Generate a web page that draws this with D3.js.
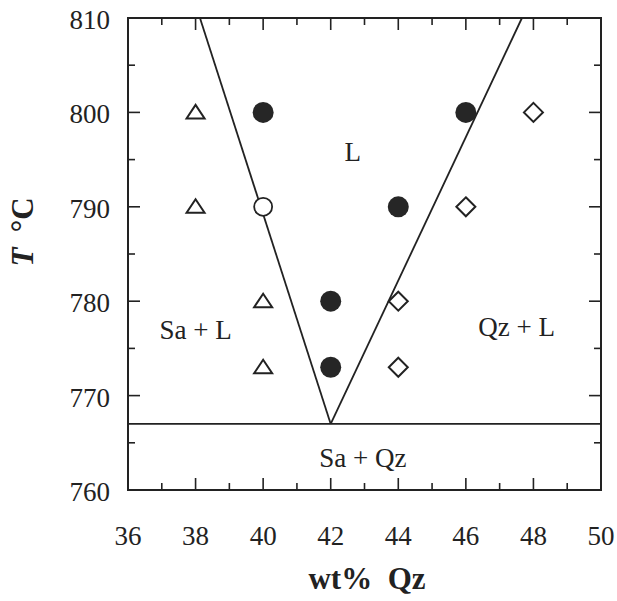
<!DOCTYPE html>
<html lang="en">
<head>
<meta charset="UTF-8">
<title>Sa-Qz phase diagram</title>
<script src="https://d3js.org/d3.v7.min.js"></script>
<style>
 body {margin: 0; padding: 0; background: #fff;}
 svg {font-family: "Liberation Serif", "DejaVu Serif", serif;}
 .tick-label {font-size: 27px; fill: #222;}
 .region {font-size: 27px; fill: #222;}
 .title {font-size: 31px; font-weight: bold; fill: #222;}
</style>
</head>
<body>
<svg id="chart" width="617" height="601"></svg>
<script>
// x ticks (wt% Qz) and y ticks (T °C)
const xTicks = [36, 38, 40, 42, 44, 46, 48, 50];
const yTicks = [760, 770, 780, 790, 800, 810];

// experiments, [wt% Qz, T]
const saL = [[38, 800], [38, 790], [40, 780], [40, 773]];        // triangles
const liquid = [[40, 800], [46, 800], [44, 790], [42, 780], [42, 773]]; // filled circles
const openCircle = [[40, 790]];
const qzL = [[48, 800], [46, 790], [44, 780], [44, 773]];        // diamonds

// phase boundaries
const leftBoundary = [[38.13, 810], [42, 767]];
const rightBoundary = [[42, 767], [47.66, 810]];
const solidus = [[36, 767], [50, 767]];

const regionLabels = [
  {text: 'L', x: 42.65, t: 795.8},
  {text: 'Sa + L', x: 38.0, t: 777},
  {text: 'Qz + L', x: 47.5, t: 777.3},
  {text: 'Sa + Qz', x: 42.95, t: 763.4}
];

const svg = d3.select('#chart');
const m = {left: 128, right: 16, top: 18, bottom: 111};
const W = 617, H = 601;
const x = d3.scaleLinear().domain([36, 50]).range([m.left, W - m.right]);
const y = d3.scaleLinear().domain([760, 810]).range([H - m.bottom, m.top]);

const ink = '#222';

// frame
svg.append('rect')
  .attr('x', x(36)).attr('y', y(810))
  .attr('width', x(50) - x(36)).attr('height', y(760) - y(810))
  .attr('fill', 'none').attr('stroke', ink).attr('stroke-width', 2);

// inward ticks
const xMinor = d3.range(37, 50, 2);
const yMinor = d3.range(765, 810, 10);
const tg = svg.append('g').attr('stroke', ink).attr('stroke-width', 1.6);
function xTick(v, len) {
  tg.append('line').attr('x1', x(v)).attr('x2', x(v)).attr('y1', y(760)).attr('y2', y(760) - len);
  tg.append('line').attr('x1', x(v)).attr('x2', x(v)).attr('y1', y(810)).attr('y2', y(810) + len);
}
function yTick(v, len) {
  tg.append('line').attr('x1', x(36)).attr('x2', x(36) + len).attr('y1', y(v)).attr('y2', y(v));
  tg.append('line').attr('x1', x(50)).attr('x2', x(50) - len).attr('y1', y(v)).attr('y2', y(v));
}
xTicks.slice(1, -1).forEach(v => xTick(v, 12));
xMinor.forEach(v => xTick(v, 7));
yTicks.slice(1, -1).forEach(v => yTick(v, 12));
yMinor.forEach(v => yTick(v, 7));

// tick labels
svg.append('g').selectAll('text').data(xTicks).join('text')
  .attr('class', 'tick-label')
  .attr('x', d => x(d)).attr('y', y(760) + 55)
  .attr('text-anchor', 'middle')
  .text(d => d);
svg.append('g').selectAll('text').data(yTicks).join('text')
  .attr('class', 'tick-label')
  .attr('x', x(36) - 18).attr('y', d => y(d) + 11)
  .attr('text-anchor', 'end')
  .text(d => d);

// boundaries
const line = d3.line().x(d => x(d[0])).y(d => y(d[1]));
[leftBoundary, rightBoundary, solidus].forEach(seg => {
  svg.append('path').attr('d', line(seg))
    .attr('fill', 'none').attr('stroke', ink).attr('stroke-width', 1.8);
});

// markers
const pts = svg.append('g');
pts.selectAll('.tri').data(saL).join('path')
  .attr('d', 'M0,-7.5 L9,6 L-9,6 Z')
  .attr('transform', d => `translate(${x(d[0])},${y(d[1])})`)
  .attr('fill', '#fff').attr('stroke', ink).attr('stroke-width', 2);
pts.selectAll('.dia').data(qzL).join('path')
  .attr('d', 'M0,-9.5 L9.5,0 L0,9.5 L-9.5,0 Z')
  .attr('transform', d => `translate(${x(d[0])},${y(d[1])})`)
  .attr('fill', '#fff').attr('stroke', ink).attr('stroke-width', 2);
pts.selectAll('.open').data(openCircle).join('circle')
  .attr('cx', d => x(d[0])).attr('cy', d => y(d[1])).attr('r', 9)
  .attr('fill', '#fff').attr('stroke', ink).attr('stroke-width', 1.8);
pts.selectAll('.fill').data(liquid).join('circle')
  .attr('cx', d => x(d[0])).attr('cy', d => y(d[1])).attr('r', 10.5)
  .attr('fill', '#262626');

// region labels
svg.append('g').selectAll('text').data(regionLabels).join('text')
  .attr('class', 'region')
  .attr('x', d => x(d.x)).attr('y', d => y(d.t) + 9)
  .attr('text-anchor', 'middle')
  .text(d => d.text);

// axis titles
svg.append('text').attr('class', 'title')
  .attr('x', 367).attr('y', 589)
  .attr('text-anchor', 'middle')
  .text('wt%\u00a0\u00a0Qz');
const yt = svg.append('text').attr('class', 'title')
  .attr('transform', 'translate(33,232) rotate(-90)')
  .attr('text-anchor', 'middle');
yt.append('tspan').attr('font-style', 'italic').text('T');
yt.append('tspan').text('\u00a0\u00a0°C');
</script>
</body>
</html>
